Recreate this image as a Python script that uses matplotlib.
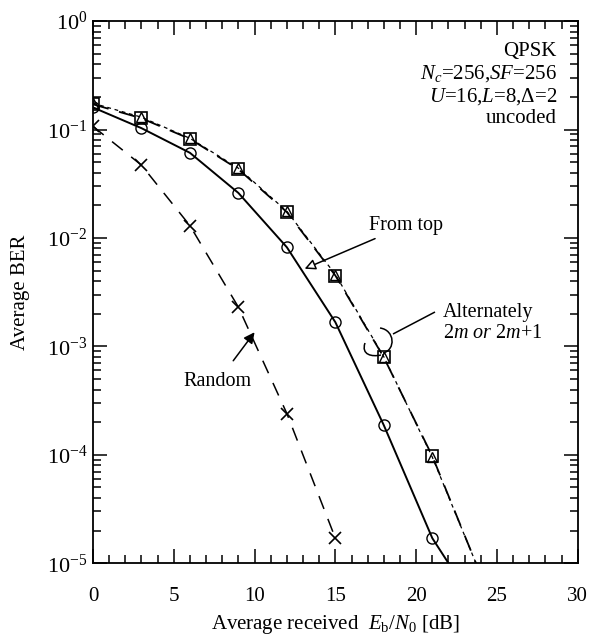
import numpy as np
import matplotlib
matplotlib.use('Agg')
import matplotlib.pyplot as plt
from matplotlib.path import Path
from matplotlib.patches import PathPatch
from matplotlib.transforms import Affine2D

plt.rcParams['font.family'] = ['Liberation Serif', 'DejaVu Serif']
plt.rcParams['mathtext.fontset'] = 'custom'
plt.rcParams['mathtext.rm'] = 'Liberation Serif'
plt.rcParams['mathtext.it'] = 'Liberation Serif:italic'

# Eb/N0 [dB] onde ha marcadores
snr = [0, 3, 6, 9, 12, 15, 18, 21]
snr_rand = [0, 3, 6, 9, 12, 15]

# BER
ber_fromtop = [0.16, 0.103, 0.061, 0.026, 0.0082, 0.00167, 1.87e-4, 1.7e-5]
ber_alt_sq = [0.171, 0.127, 0.082, 0.043, 0.0173, 0.0045, 7.9e-4, 9.7e-5]
ber_alt_tri = [0.175, 0.13, 0.083, 0.044, 0.0176, 0.0046, 8.0e-4, 9.5e-5]
ber_random = [0.107, 0.047, 0.013, 0.0023, 2.4e-4, 1.7e-5]

# final das curvas (onde cruzam 1e-5)
fim_fromtop = (22.0, 1e-5)
fim_alt = (23.7, 1e-5)

fig = plt.figure(figsize=(5.92, 6.4), dpi=100)
ax = fig.add_axes([0.157, 0.120, 0.819, 0.847])

# curvas
ax.plot(snr + [fim_fromtop[0]], ber_fromtop + [fim_fromtop[1]], color='black', lw=1.4)
ax.plot(snr + [fim_alt[0]], ber_alt_sq + [fim_alt[1]], color='black', lw=1.3, dashes=(9, 6))
ax.plot(snr + [fim_alt[0]], ber_alt_tri + [fim_alt[1]], color='black', lw=0.9, dashes=(3, 3))
ax.plot(snr_rand, ber_random, color='black', lw=1.1, dashes=(9, 7))

# marcadores
ax.plot(snr, ber_fromtop, 'o', ms=8, mfc='none', mec='black', mew=1.0)
ax.plot(snr, ber_alt_sq, 's', ms=8, mfc='none', mec='black', mew=1.2)
ax.plot(snr, ber_alt_tri, '^', ms=7, mfc='none', mec='black', mew=1.0)
ax.plot(snr_rand, ber_random, 'x', ms=9, mec='black', mew=1.2)

ax.set_yscale('log')
ax.set_xlim(0, 30)
ax.set_ylim(1e-5, 1)
ax.set_xticks([0, 5, 10, 15, 20, 25, 30])
ax.set_xticks(np.arange(0, 31, 1), minor=True)
ax.set_yticks([1e-5, 1e-4, 1e-3, 1e-2, 1e-1, 1])
ax.set_yticklabels([r'$10^{\mathregular{-5}}$', r'$10^{\mathregular{-4}}$', r'$10^{\mathregular{-3}}$',
                    r'$10^{\mathregular{-2}}$', r'$10^{\mathregular{-1}}$', r'$10^{\mathregular{0}}$'])
ax.tick_params(which='both', direction='in', top=True, right=True, width=1.1)
ax.tick_params(which='major', length=10)
ax.tick_params(which='minor', length=6)
ax.tick_params(axis='x', labelsize=15, pad=17)
ax.tick_params(axis='y', labelsize=16, pad=4)
ax.tick_params(axis='y', which='minor', labelleft=False)
for s in ax.spines.values():
    s.set_linewidth(1.3)

ax.set_xlabel(r'Average received  $E_{\mathregular{b}}/N_{\mathregular{0}}$ [dB]', fontsize=15, labelpad=5)
ax.set_ylabel('Average BER', fontsize=15, labelpad=12)

# bloco de texto no canto
ax.text(0.957, 0.962, 'QPSK\n$N_c$=256,$SF$=256\n$U$=16,$L$=8,$\\mathregular{\\Delta}$=2\nuncoded',
        transform=ax.transAxes, ha='right', va='top', fontsize=15, linespacing=1.15)

# anotacoes
ax.annotate('From top', xy=(13.1, 5.2e-3), xytext=(17.1, 1.31e-2), fontsize=14.5,
            ha='left', va='center',
            arrowprops=dict(arrowstyle='-|>', color='black', lw=1.1, mutation_scale=16,
                            fc='white', shrinkA=2, shrinkB=0))
ax.annotate('Random', xy=(10.0, 1.35e-3), xytext=(7.7, 4.7e-4), fontsize=14.5,
            ha='center', va='center',
            arrowprops=dict(arrowstyle='-|>', color='black', lw=1.1, mutation_scale=16,
                            shrinkA=8, shrinkB=0))
ax.text(21.65, 1.63e-3, 'Alternately\n2$m$ $\\mathit{or}$ 2$m$+1', fontsize=14.5, ha='left', va='center',
        linespacing=1.15)

# chaveta em pixels da figura
px = Affine2D().scale(1 / 592, -1 / 640).translate(0, 1) + fig.transFigure
verts = [(380, 328), (395, 330), (396, 350), (383, 353),
         (365, 343), (361, 355), (372, 357), (381, 355),
         (393, 334), (435, 312)]
codes = [Path.MOVETO, Path.CURVE4, Path.CURVE4, Path.CURVE4,
         Path.MOVETO, Path.CURVE4, Path.CURVE4, Path.CURVE4,
         Path.MOVETO, Path.LINETO]
fig.patches.append(PathPatch(Path(verts, codes), transform=px, fill=False, lw=1.1, ec='black'))

fig.savefig('out.png', dpi=100)
